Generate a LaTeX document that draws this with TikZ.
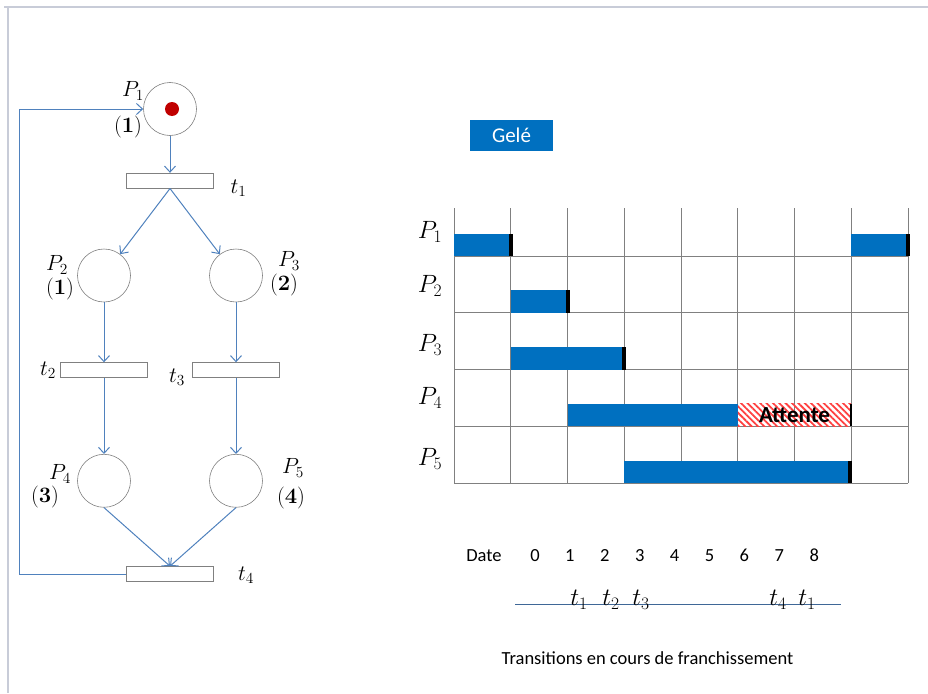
\RequirePackage{fix-cm}
\documentclass[tikz,border=0pt]{standalone}
\usepackage{amsmath}
\usepackage[no-math]{fontspec}
\setmainfont{Carlito}
\usetikzlibrary{arrows.meta, positioning, patterns.meta}
\definecolor{arcblue}{RGB}{79,129,189}
\definecolor{barblue}{RGB}{0,112,192}
\definecolor{tokenred}{RGB}{192,0,0}
\definecolor{linegray}{RGB}{128,128,128}
\definecolor{framegray}{RGB}{200,204,216}
\tikzset{
    place/.style={circle, draw=linegray, line width=0.6pt, minimum size=53pt, inner sep=0pt},
    transition/.style={rectangle, draw=linegray, line width=0.7pt, minimum width=87pt, minimum height=15pt, inner sep=0pt},
    token/.style={circle, fill=tokenred, minimum size=14pt, inner sep=0pt},
    flow/.style={-{Straight Barb[length=6pt, width=11pt]}, arcblue, line width=1pt},
    mathlabel/.style={font=\fontsize{22}{24}\selectfont, inner sep=0pt},
    rowlabel/.style={font=\fontsize{25}{28}\selectfont, inner sep=0pt},
    datelabel/.style={font=\fontsize{18.5}{22}\selectfont, inner sep=0pt},
    gridline/.style={draw=linegray, line width=0.8pt},
    bar/.style={fill=barblue},
    barend/.style={fill=black},
    waiting/.style={pattern={Lines[angle=-45, distance=4.5pt, line width=1.8pt]}, pattern color=red!75},
    frozen/.style={rectangle, fill=barblue, text=white, minimum width=83pt, minimum height=31pt, font=\fontsize{21}{24}\selectfont},
    timeline/.style={draw=arcblue!80!black, line width=0.9pt},
    slideframe/.style={draw=framegray, line width=1.2pt},
}
\begin{document}
\begin{tikzpicture}[x=1pt, y=-1pt]
\useasboundingbox (0,0) rectangle (928,693);

% Slide frame
\draw[slideframe] (4,7) -- (928,7);
\draw[slideframe] (8,7) -- (8,693);

% Petri net
\node[place] (p1) at (170,109) {};
\node[token] (tok) at ([xshift=2pt]p1.center) {};
\node[transition, below=37pt of p1] (t1) {};
\node[place] (p2) at (104,275.5) {};
\node[place] (p3) at (236,275.5) {};
\node[transition, below=60pt of p2] (t2) {};
\node[transition, below=60pt of p3] (t3) {};
\node[place, below=76pt of t2] (p4) {};
\node[place, below=76pt of t3] (p5) {};
\node[transition] (t4) at (170,574) {};

% Place and transition names
\node[mathlabel] (p1name) at (133,91) {$P_1$};
\node[mathlabel] (p1count) at (128,127) {$\mathbf{(1)}$};
\node[mathlabel] (p2name) at (57,265) {$P_2$};
\node[mathlabel] (p2count) at (60,289) {$\mathbf{(1)}$};
\node[mathlabel] (p3name) at (289,261) {$P_3$};
\node[mathlabel] (p3count) at (284,285) {$\mathbf{(2)}$};
\node[mathlabel] (p4name) at (60,474) {$P_4$};
\node[mathlabel] (p4count) at (45,497) {$\mathbf{(3)}$};
\node[mathlabel] (p5name) at (293,468) {$P_5$};
\node[mathlabel] (p5count) at (291,498) {$\mathbf{(4)}$};
\node[mathlabel] (t1name) at (238.5,188) {$t_1$};
\node[mathlabel] (t2name) at (48,370) {$t_2$};
\node[mathlabel] (t3name) at (177,377) {$t_3$};
\node[mathlabel] (t4name) at (246,575) {$t_4$};

% Arcs
\draw[flow] (p1) -- (t1);
\draw[flow] (t1.south) -- (p2);
\draw[flow] (t1.south) -- (p3);
\draw[flow] (p2) -- (t2);
\draw[flow] (p3) -- (t3);
\draw[flow] (t2) -- (p4);
\draw[flow] (t3) -- (p5);
\draw[flow] (p4.south) -- (t4.north);
\draw[flow] (p5.south) -- (t4.north);
\coordinate (back) at (19,109);
\draw[flow] (t4.west) -| (back) -- (p1);

% Legend
\node[frozen] (gele) at (511.5,135.5) {Gelé};

% Chart grid
\foreach \i in {0,...,8}
    \draw[gridline] (454+56.75*\i,208) -- (454+56.75*\i,483);
\foreach \j in {1,...,5}
    \draw[gridline] (454,199.25+56.75*\j) -- (908,199.25+56.75*\j);

% Marking bars
\fill[bar] (454,233.5) rectangle (510.75,256);
\fill[barend] (508.75,233.5) rectangle (512.75,256);
\fill[bar] (851.25,233.5) rectangle (908,256);
\fill[barend] (906,233.5) rectangle (910,256);
\fill[bar] (510.75,290.25) rectangle (567.5,312.75);
\fill[barend] (565.5,290.25) rectangle (569.5,312.75);
\fill[bar] (510.75,347) rectangle (624.25,369.5);
\fill[barend] (622.25,347) rectangle (626.25,369.5);
\fill[bar] (567.5,403.75) rectangle (737.75,426.25);
\fill[waiting] (737.75,403.75) rectangle (851.25,426.25);
\fill[barend] (850.25,403.75) rectangle (852.25,426.25);
\fill[bar] (624.25,460.5) rectangle (851.25,483);
\fill[barend] (848.25,460.5) rectangle (852.25,483);
\node[font=\fontsize{23}{26}\selectfont\bfseries, inner sep=0pt] (wait) at (794.5,415.5) {Attente};

% Row names
\node[rowlabel] (r1) at (430,232) {$P_1$};
\node[rowlabel] (r2) at (430,286) {$P_2$};
\node[rowlabel] (r3) at (430,345) {$P_3$};
\node[rowlabel] (r4) at (430,398) {$P_4$};
\node[rowlabel] (r5) at (430,459) {$P_5$};

% Dates
\node[datelabel, anchor=base] (date) at (484,561) {Date};
\foreach \d in {0,...,8}
    \node[datelabel, anchor=base] (d\d) at (535+34.9*\d,561) {\d};

% Firing transitions
\coordinate (tl) at (515,604);
\coordinate (tr) at (841,604);
\draw[timeline] (tl) -- (tr);
\node[rowlabel] (f1) at (579,600) {$t_1$};
\node[rowlabel] (f2) at (611,600) {$t_2$};
\node[rowlabel] (f3) at (641,600) {$t_3$};
\node[rowlabel] (f4) at (778,600) {$t_4$};
\node[rowlabel] (f5) at (807,600) {$t_1$};
\node[datelabel] (caption) at (647.5,658) {Transitions en cours de franchissement};

\end{tikzpicture}
\end{document}
